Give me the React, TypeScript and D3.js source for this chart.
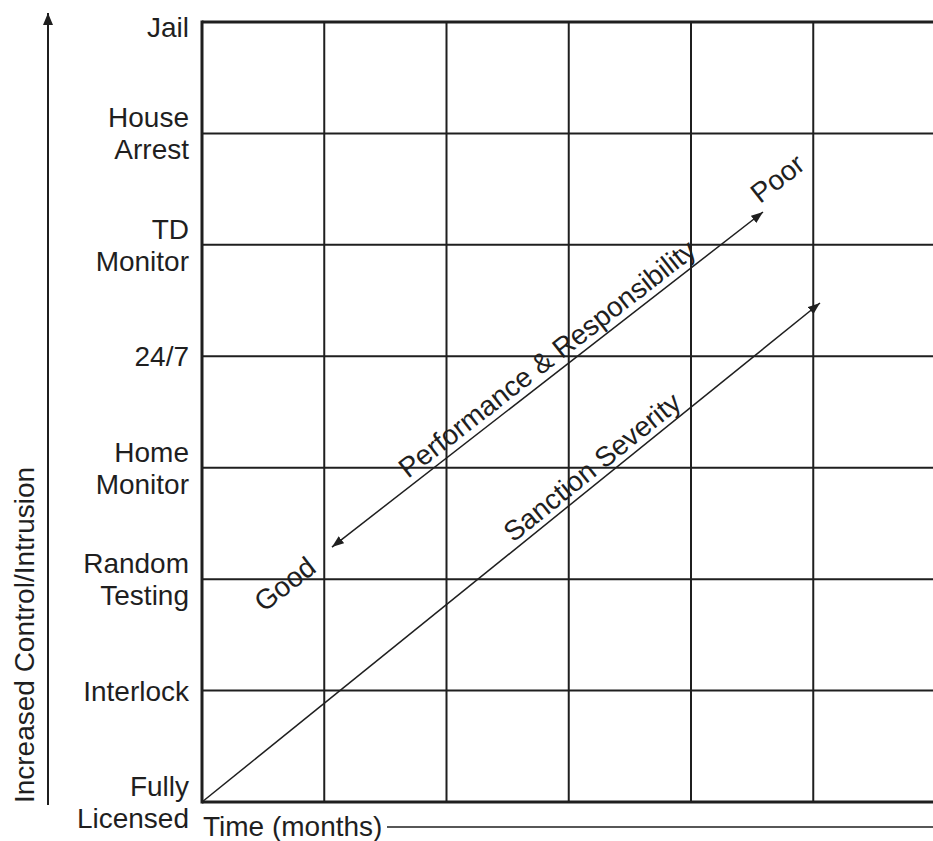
import React from 'react';
import * as d3 from 'd3';

// Control levels, bottom (least) to top (most)
const levelLabels: string[][] = [
  ['Fully', 'Licensed'],
  ['Interlock'],
  ['Random', 'Testing'],
  ['Home', 'Monitor'],
  ['24/7'],
  ['TD', 'Monitor'],
  ['House', 'Arrest'],
  ['Jail'],
];
const monthTicks = [0, 1, 2, 3, 4, 5, 6];

// Diagonal arrows in (month, level) units
const sanctionStart = [0, 0];
const sanctionEnd = [5.055, 4.478];
const perfGood = [1.063, 2.288];
const perfPoor = [4.589, 5.295];

const yAxisTitle = 'Increased Control/Intrusion';
const xAxisTitle = 'Time (months)';
const sanctionLabel = 'Sanction Severity';
const perfLabel = 'Performance & Responsibility';
const goodLabel = 'Good';
const poorLabel = 'Poor';

export default function App() {
  const W = 933;
  const H = 841;
  const x = d3.scaleLinear().domain([0, 6]).range([202, 935.5]);
  const y = d3.scaleLinear().domain([0, 7]).range([802, 22]);
  const ink = '#1f1f1f';
  const font = '"Liberation Sans", Arial, Helvetica, sans-serif';
  const fs = 28;
  const lineGen = d3.line<number[]>().x((d) => x(d[0])).y((d) => y(d[1]));

  const seg = (a: number[], b: number[]) => {
    const x1 = x(a[0]), y1 = y(a[1]), x2 = x(b[0]), y2 = y(b[1]);
    const ang = (Math.atan2(y2 - y1, x2 - x1) * 180) / Math.PI;
    const len = Math.hypot(x2 - x1, y2 - y1);
    const at = (t: number) => [x1 + t * (x2 - x1), y1 + t * (y2 - y1)];
    return { x1, y1, x2, y2, ang, len, at };
  };
  const sS = seg(sanctionStart, sanctionEnd);
  const pS = seg(perfGood, perfPoor);
  const sMid = sS.at(0.647);
  const pMid = pS.at(0.523);

  const [xMin, xMax] = x.range();
  const yTop = y(7);
  const yBot = y(0);

  return (
    <svg
      width={W}
      height={H}
      style={{ position: 'absolute', left: 0, top: 0, background: '#fff' }}
      fontFamily={font}
    >
      <defs>
        <marker id="ah" markerUnits="userSpaceOnUse" markerWidth={14} markerHeight={10}
          refX={12} refY={4.5} orient="auto-start-reverse" viewBox="0 0 14 10">
          <path d="M0,0 L12,4.5 L0,9 z" fill={ink} />
        </marker>
        <marker id="axh" markerUnits="userSpaceOnUse" markerWidth={14} markerHeight={12}
          refX={12} refY={5} orient="auto" viewBox="0 0 14 12">
          <path d="M0,0 L12,5 L0,10 z" fill={ink} />
        </marker>
      </defs>

      {/* horizontal grid lines */}
      {levelLabels.map((_, i) => (
        <line key={'h' + i} x1={xMin} x2={xMax} y1={y(i)} y2={y(i)} stroke={ink}
          strokeWidth={i === 0 || i === 7 ? 3 : 2} />
      ))}
      {/* vertical grid lines */}
      {monthTicks.map((m) => (
        <line key={'v' + m} x1={x(m)} x2={x(m)} y1={yTop} y2={yBot} stroke={ink}
          strokeWidth={m === 0 ? 3 : 2} strokeLinecap={m === 0 ? 'square' : 'butt'} />
      ))}

      {/* level labels */}
      {levelLabels.map((lines, i) => {
        const cy = Math.max(y(i), yTop + 5);
        const n = lines.length;
        return (
          <text key={'l' + i} textAnchor="end" fontSize={fs} fill={ink}>
            {lines.map((t, j) => (
              <tspan key={j} x={189} y={cy + 10 + (j - (n - 1) / 2) * 32}>{t}</tspan>
            ))}
          </text>
        );
      })}

      {/* y axis arrow and title */}
      <line x1={48} x2={48} y1={805} y2={13} stroke={ink} strokeWidth={2} markerEnd="url(#axh)" />
      <text transform={`translate(34,${(805 + 465) / 2}) rotate(-90)`} textAnchor="middle"
        fontSize={fs} fill={ink}>{yAxisTitle}</text>

      {/* x axis title and arrow */}
      <text x={203} y={836} fontSize={fs} fill={ink}>{xAxisTitle}</text>
      <line x1={387} x2={946} y1={827} y2={827} stroke={ink} strokeWidth={1.5} markerEnd="url(#axh)" />

      {/* sanction severity arrow */}
      <path d={lineGen([sanctionStart, sanctionEnd]) || ''} stroke={ink} strokeWidth={1.5} fill="none"
        markerEnd="url(#ah)" />
      <text transform={`translate(${sMid[0]},${sMid[1]}) rotate(${sS.ang})`} y={-6}
        textAnchor="middle" fontSize={fs} fill={ink}>{sanctionLabel}</text>

      {/* performance & responsibility double arrow */}
      <path d={lineGen([perfGood, perfPoor]) || ''} stroke={ink} strokeWidth={1.5} fill="none"
        markerStart="url(#ah)" markerEnd="url(#ah)" />
      <text transform={`translate(${pMid[0]},${pMid[1]}) rotate(${pS.ang})`} y={-7}
        textAnchor="middle" fontSize={fs} fill={ink}>{perfLabel}</text>
      <text transform={`translate(${pS.x2},${pS.y2}) rotate(${pS.ang})`} x={32} y={-8}
        textAnchor="middle" fontSize={fs} fill={ink}>{poorLabel}</text>
      <text transform={`translate(${pS.x1},${pS.y1}) rotate(${pS.ang})`} x={-60} y={10}
        textAnchor="middle" fontSize={fs} fill={ink}>{goodLabel}</text>
    </svg>
  );
}
